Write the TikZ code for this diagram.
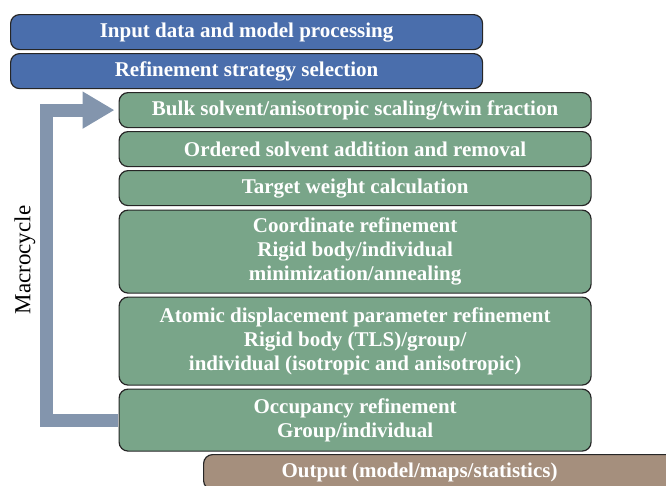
\documentclass[tikz,border=0pt]{standalone}
\usepackage{fontspec}
\setmainfont{Liberation Serif}
\usetikzlibrary{arrows.meta}
\definecolor{stepblue}{RGB}{74,110,172}
\definecolor{stepgreen}{RGB}{121,165,137}
\definecolor{stepbrown}{RGB}{165,143,125}
\definecolor{cyclegray}{RGB}{131,149,173}

\begin{document}
\begin{tikzpicture}[x=1pt,y=-1pt,
    boxtext/.style={text=white, align=center, font=\fontsize{21}{24}\selectfont\bfseries},
    box/.style={boxtext, draw=black!85, line width=1.2pt, rounded corners=9pt,
        anchor=north west, minimum width=472pt, inner sep=2pt},
    cyclearrow/.style={cyclegray, line width=13pt, -{Triangle[length=32pt,width=35pt]}}]

    % Frame
    \useasboundingbox (0,0) rectangle (666,485);

    % Preparation
    \node[box, fill=stepblue, minimum height=35pt] (input) at (10,14) {Input data and model processing};
    \node[box, fill=stepblue, minimum height=35pt] (strategy) at (10,53) {Refinement strategy selection};

    % Macrocycle steps
    \node[box, fill=stepgreen, minimum height=35pt] (bulk) at (118.5,92) {Bulk solvent/anisotropic scaling/twin fraction};
    \node[box, fill=stepgreen, minimum height=35pt] (solvent) at (118.5,131) {Ordered solvent addition and removal};
    \node[box, fill=stepgreen, minimum height=35pt] (weight) at (118.5,170) {Target weight calculation};
    \node[box, fill=stepgreen, minimum height=83pt] (coord) at (118.5,209.5)
        {Coordinate refinement\\Rigid body/individual\\minimization/annealing};
    \node[box, fill=stepgreen, minimum height=88pt] (adp) at (118.5,296.5)
        {Atomic displacement parameter refinement\\Rigid body (TLS)/group/\\individual (isotropic and anisotropic)};
    \node[box, fill=stepgreen, minimum height=62pt] (occ) at (118.5,388.5)
        {Occupancy refinement\\Group/individual};

    % Output
    \node[box, fill=stepbrown, minimum height=35pt,
        label={[boxtext, xshift=-20pt]center:Output (model/maps/statistics)}] (output) at (203,454) {};

    % Loop back
    \draw[cyclearrow] ([xshift=-0.6pt]occ.west) -- ++(-71,0) |- ([xshift=-4pt]bulk.west);
    \node[rotate=90, font=\fontsize{23}{24}\selectfont] (macro) at (25,260) {Macrocycle};

\end{tikzpicture}
\end{document}
